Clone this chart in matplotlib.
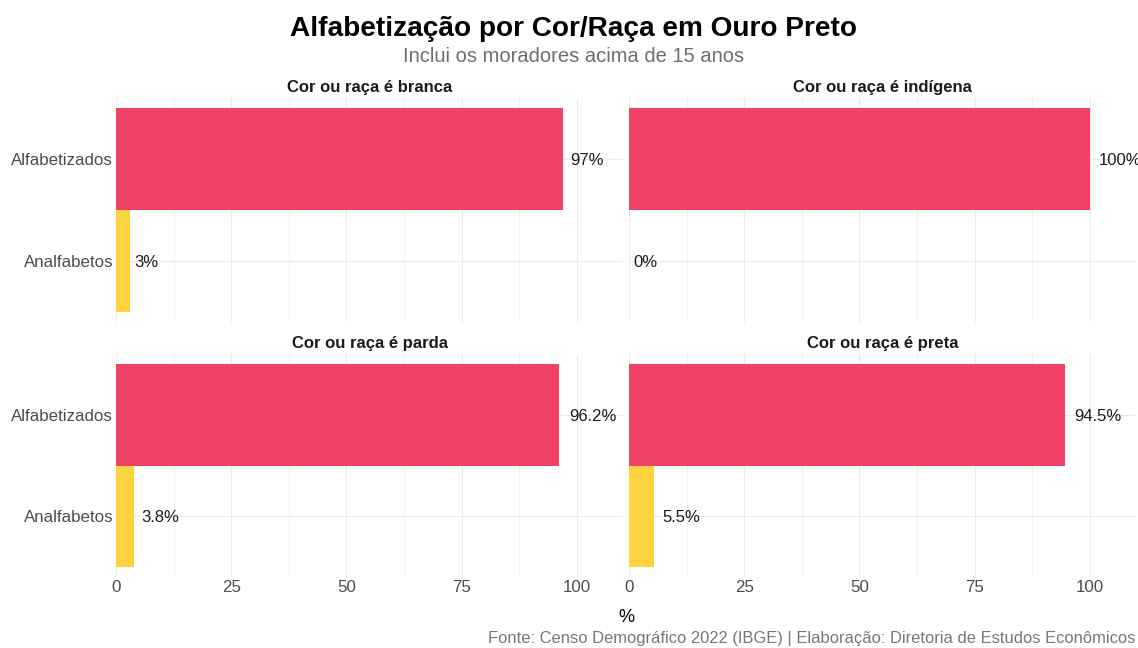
import numpy as np
import matplotlib.pyplot as plt

plt.rcParams['font.family'] = ['Liberation Sans', 'DejaVu Sans']

# === Data ===
categorias = ["Alfabetizados", "Analfabetos"]
grupos = ["Cor ou raça é branca", "Cor ou raça é indígena",
          "Cor ou raça é parda", "Cor ou raça é preta"]
valores = [
    [97.0, 3.0],
    [100.0, 0.0],
    [96.2, 3.8],
    [94.5, 5.5],
]
rotulos = [
    ["97%", "3%"],
    ["100%", "0%"],
    ["96.2%", "3.8%"],
    ["94.5%", "5.5%"],
]
cores = ["#EE4266", "#FFD23F"]

W, H = 1138, 648
fig = plt.figure(figsize=(W / 100, H / 100), dpi=100)
renderer = fig.canvas.get_renderer()

# panel boxes in pixels: (left, top, right, bottom)
boxes = [
    (116, 98, 623, 322),
    (629, 98, 1136, 322),
    (116, 354, 623, 577),
    (629, 354, 1136, 577),
]

grid_col = "#EBEBEB"
y = np.arange(len(categorias))

for i, (l, t, r, b) in enumerate(boxes):
    ax = fig.add_axes([l / W, 1 - b / H, (r - l) / W, (b - t) / H])
    ax.set_xlim(0, 110)
    ax.set_ylim(1.6, -0.6)
    for s in ax.spines.values():
        s.set_visible(False)

    # grid (theme_minimal style)
    for xv in [0, 25, 50, 75, 100]:
        ax.axvline(xv, color=grid_col, lw=0.8, zorder=0)
    for xv in [12.5, 37.5, 62.5, 87.5]:
        ax.axvline(xv, color=grid_col, lw=0.5, zorder=0)
    for yv in y:
        ax.axhline(yv, color=grid_col, lw=0.8, zorder=0)

    ax.barh(y, valores[i], height=1.0, color=cores, zorder=2)
    for yv, v, lab in zip(y, valores[i], rotulos[i]):
        txt = ax.annotate(lab, (v, yv), xytext=(0, 0), textcoords="offset points",
                          ha="left", va="center", fontsize=12, color="#1A1A1A")
        # hjust = -0.2 : shift by 20% of the text width
        w_px = txt.get_window_extent(renderer).width
        txt.set_position((0.2 * w_px * 72 / 100, -1))

    ax.set_title(grupos[i], fontsize=12, fontweight="bold", color="#1A1A1A", pad=4)
    ax.tick_params(length=0, labelsize=12.2, labelcolor="#4D4D4D", pad=2)

    if i % 2 == 0:
        ax.set_yticks(y)
        ax.set_yticklabels(categorias)
    else:
        ax.set_yticks([])
    if i >= 2:
        ax.set_xticks([0, 25, 50, 75, 100])
    else:
        ax.set_xticks([])

fig.text(574 / W, 1 - 29 / H, "Alfabetização por Cor/Raça em Ouro Preto",
         ha="center", va="center", fontsize=20.2, fontweight="bold", color="black")
fig.text(574 / W, 1 - 57 / H, "Inclui os moradores acima de 15 anos",
         ha="center", va="center", fontsize=14.5, color="#6E6E6E")
fig.text(626 / W, 1 - 618 / H, "%", ha="center", va="center", fontsize=13, color="black")
fig.text(1135 / W, 1 - 638 / H,
         "Fonte: Censo Demográfico 2022 (IBGE) | Elaboração: Diretoria de Estudos Econômicos",
         ha="right", va="center", fontsize=11.9, color="#777777")

fig.savefig("out.png", dpi=100)
